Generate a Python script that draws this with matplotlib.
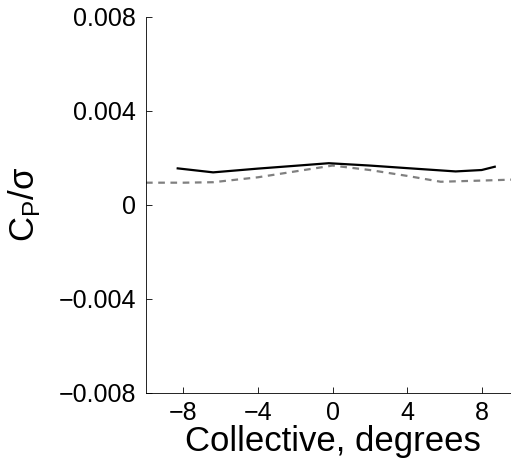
import matplotlib.pyplot as plt
import numpy as np

plt.rcParams['font.family'] = ['Liberation Sans', 'DejaVu Sans']

# solid black curve
coll_solid = [-8.3, -6.4, -4, -2, -0.2, 2, 4, 6.6, 8.0, 8.7]
cp_solid = [0.00155, 0.00138, 0.00154, 0.00166, 0.00177, 0.00167, 0.00156, 0.00142, 0.00148, 0.00162]

# dashed grey curve
coll_dash = [-10, -8, -6.4, -4, -2, 0, 2, 4, 5.8, 8, 10]
cp_dash = [0.00094, 0.00094, 0.00096, 0.00117, 0.00142, 0.00167, 0.00148, 0.00123, 0.00098, 0.00103, 0.00108]

xticks = [-8, -4, 0, 4, 8]
yticks = [-0.008, -0.004, 0, 0.004, 0.008]
ytick_labels = ['\u22120.008', '\u22120.004', '0', '0.004', '0.008']
xtick_labels = ['\u22128', '\u22124', '0', '4', '8']

fig = plt.figure(figsize=(5.11, 4.59), dpi=100)
ax = fig.add_axes([146/511, (459-392.5)/459, 373/511, (392.5-17)/459])

ax.plot(coll_dash, cp_dash, '--', color='#808080', lw=1.6, dashes=(3, 2.5))
ax.plot(coll_solid, cp_solid, '-', color='black', lw=1.6)

ax.set_xlim(-10, 10)
ax.set_ylim(-0.008, 0.008)
ax.set_xticks(xticks)
ax.set_xticklabels(xtick_labels, fontsize=18)
ax.set_yticks(yticks)
ax.set_yticklabels(ytick_labels, fontsize=18)
ax.tick_params(direction='in', length=4, width=0.6)
ax.tick_params(axis='y', pad=7)
ax.tick_params(axis='x', pad=6)
ax.spines['top'].set_visible(False)
ax.spines['right'].set_visible(False)
for s in ['left', 'bottom']:
    ax.spines[s].set_linewidth(0.6)

ax.set_xlabel('Collective, degrees', fontsize=25, labelpad=0)
ax.set_ylabel(r'C$_\mathregular{P}$/$\mathregular{\sigma}$', fontsize=25, labelpad=12)

fig.savefig('out.png', dpi=100)
